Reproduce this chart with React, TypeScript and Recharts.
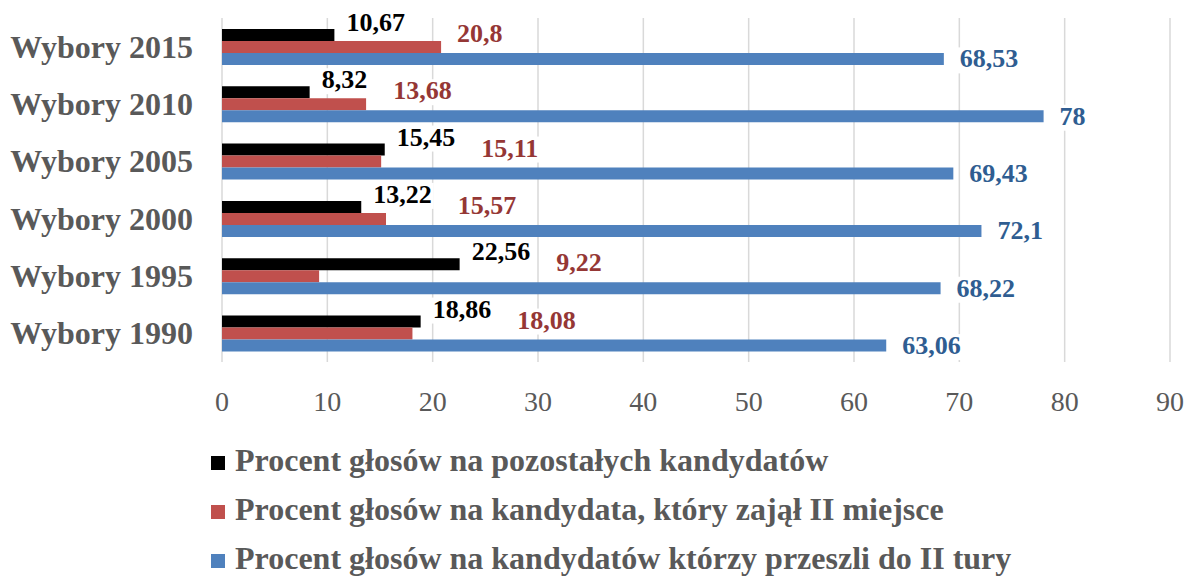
import React from 'react';
import { BarChart, Bar, XAxis, YAxis, CartesianGrid, Legend } from 'recharts';

const categories = ['Wybory 2015', 'Wybory 2010', 'Wybory 2005', 'Wybory 2000', 'Wybory 1995', 'Wybory 1990'];
const others = [10.67, 8.32, 15.45, 13.22, 22.56, 18.86];
const second = [20.8, 13.68, 15.11, 15.57, 9.22, 18.08];
const runoff = [68.53, 78, 69.43, 72.1, 68.22, 63.06];
const xTicks = [0, 10, 20, 30, 40, 50, 60, 70, 80, 90];
const seriesNames = [
  'Procent głosów na pozostałych kandydatów',
  'Procent głosów na kandydata, który zajął II miejsce',
  'Procent głosów na kandydatów którzy przeszli do II tury',
];
const seriesColors = ['#000000', '#C0504D', '#4F81BD'];
const labelColors = ['#000000', '#953735', '#2F5D91'];

const data = categories.map((name, i) => ({
  name,
  others: others[i],
  second: second[i],
  runoff: runoff[i],
}));

const FONT = '"Liberation Serif", "Times New Roman", serif';
const LABEL_SIZE = 26;

const fmt = (v: number) => String(v).replace('.', ',');
const textW = (s: string, size: number) => {
  let w = 0;
  for (const ch of s) w += ch === ',' ? 0.25 : 0.5;
  return w * size;
};

const LabelBox = ({ x, baseline, text, color }: any) => {
  const w = textW(text, LABEL_SIZE);
  return (
    <g>
      <rect x={x - 2} y={baseline - 20} width={w + 4} height={26} fill="#ffffff" />
      <text x={x} y={baseline} fill={color} fontFamily={FONT} fontWeight="bold" fontSize={LABEL_SIZE}>
        {text}
      </text>
    </g>
  );
};

const BlackLabel = (props: any) => {
  const { x, y, width, height, value } = props;
  const cy = y + height / 2;
  return <LabelBox x={x + width + 12} baseline={cy - 4} text={fmt(value)} color={labelColors[0]} />;
};

const RedLabel = (props: any) => {
  const { x, y, width, height, value } = props;
  let index = props.index;
  if (index === undefined || index === null) index = second.indexOf(value);
  const k = value ? width / value : 0;
  const blackEnd = x + others[index] * k + 12 + textW(fmt(others[index]), LABEL_SIZE);
  const lx = Math.max(x + width + 16, blackEnd + 26);
  const cy = y + height / 2;
  return <LabelBox x={lx} baseline={cy - 5} text={fmt(value)} color={labelColors[1]} />;
};

const BlueLabel = (props: any) => {
  const { x, y, width, height, value } = props;
  const cy = y + height / 2;
  return <LabelBox x={x + width + 16} baseline={cy + 8.5} text={fmt(value)} color={labelColors[2]} />;
};

const YTick = (props: any) => {
  const { y, payload } = props;
  return (
    <text x={193} y={y + 11} textAnchor="end" fill="#595959" fontFamily={FONT} fontWeight="bold" fontSize={32}>
      {payload.value}
    </text>
  );
};

const XTick = (props: any) => {
  const { x, y, payload } = props;
  return (
    <text x={x} y={y + 49} textAnchor="middle" fill="#595959" fontFamily={FONT} fontSize={28}>
      {payload.value}
    </text>
  );
};

const LegendContent = () => (
  <svg width={1194} height={140} style={{ display: 'block' }}>
    {seriesNames.map((n, i) => (
      <g key={n}>
        <rect x={211} y={20 + i * 49} width={14} height={14} fill={seriesColors[i]} />
        <text x={235} y={35 + i * 49} fill="#595959" fontFamily={FONT} fontWeight="bold" fontSize={32}>
          {n}
        </text>
      </g>
    ))}
  </svg>
);

export default function App() {
  return (
    <div style={{ position: 'absolute', left: 0, top: 0, width: 1194, height: 578, background: '#fff' }}>
      <BarChart
        width={1194}
        height={578}
        data={data}
        layout="vertical"
        margin={{ top: 18, right: 24, left: 0, bottom: 16 }}
        barCategoryGap="19%"
        barGap={0}
      >
        <CartesianGrid horizontal={false} vertical={true} stroke="#D9D9D9" strokeWidth={1.5} />
        <XAxis
          type="number"
          domain={[0, 90]}
          ticks={xTicks}
          axisLine={false}
          tickLine={false}
          tickSize={0}
          tickMargin={0}
          height={60}
          tick={<XTick />}
          interval={0}
        />
        <YAxis
          type="category"
          dataKey="name"
          width={222}
          axisLine={false}
          tickLine={false}
          tick={<YTick />}
          interval={0}
        />
        <Legend
          verticalAlign="bottom"
          align="left"
          layout="horizontal"
          content={<LegendContent />}
          wrapperStyle={{ left: 0, top: 436, width: 1194, height: 140 }}
        />
        <Bar dataKey="others" name={seriesNames[0]} fill={seriesColors[0]} isAnimationActive={false} label={<BlackLabel />} />
        <Bar dataKey="second" name={seriesNames[1]} fill={seriesColors[1]} isAnimationActive={false} label={<RedLabel />} />
        <Bar dataKey="runoff" name={seriesNames[2]} fill={seriesColors[2]} isAnimationActive={false} label={<BlueLabel />} />
      </BarChart>
    </div>
  );
}
